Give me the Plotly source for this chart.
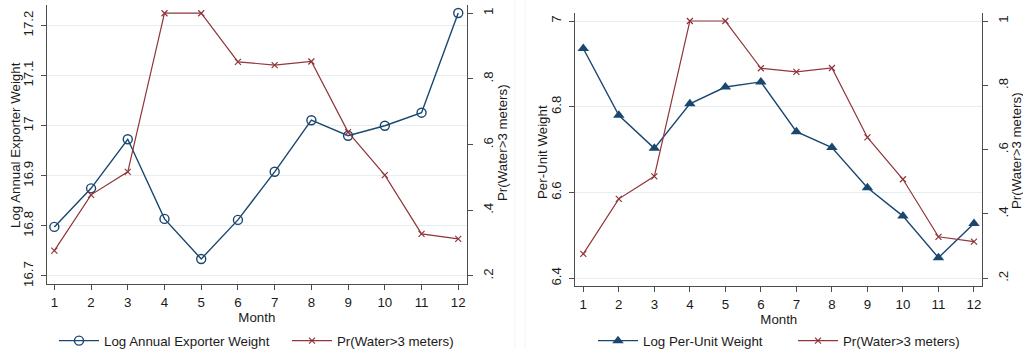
import plotly.graph_objects as go

months = list(range(1, 13))
month_labels = [str(m) for m in months]

log_exporter_weight = [16.798, 16.875, 16.973, 16.814, 16.734, 16.812,
                       16.908, 17.011, 16.980, 17.000, 17.026, 17.225]
pr_water_left = [0.277, 0.447, 0.517, 1.0, 1.0, 0.852,
                 0.842, 0.853, 0.638, 0.507, 0.328, 0.313]

log_per_unit_weight = [6.936, 6.780, 6.703, 6.807, 6.846, 6.858,
                       6.742, 6.705, 6.611, 6.545, 6.448, 6.528]
pr_water_right = [0.276, 0.447, 0.517, 1.0, 1.0, 0.853,
                  0.842, 0.854, 0.638, 0.508, 0.329, 0.314]

left_ticks = [16.7, 16.8, 16.9, 17.0, 17.1, 17.2]
left_ticktext = ["16.7", "16.8", "16.9", "17", "17.1", "17.2"]
right_ticks = [6.4, 6.6, 6.8, 7.0]
right_ticktext = ["6.4", "6.6", "6.8", "7"]
pr_ticks = [0.2, 0.4, 0.6, 0.8, 1.0]
pr_ticktext = [".2", ".4", ".6", ".8", "1"]

BLUE = "#1a476f"
RED = "#90353b"
AXIS = "#4d4d4d"
GRID = "#e6eef0"
FONT = "Liberation Sans, Arial, sans-serif"
FS = 13.3
W, H = 1023, 349

fig = go.Figure()

fig.add_trace(go.Scatter(
    x=months, y=log_exporter_weight, mode="lines+markers",
    name="Log Annual Exporter Weight",
    line=dict(color=BLUE, width=1.4),
    marker=dict(symbol="circle-open", size=9, color=BLUE, line=dict(width=1.4)),
    xaxis="x", yaxis="y", legend="legend"))
fig.add_trace(go.Scatter(
    x=months, y=pr_water_left, mode="lines+markers",
    name="Pr(Water>3 meters)",
    line=dict(color=RED, width=1.2),
    marker=dict(symbol="x-thin", size=6, color=RED, line=dict(width=1.2, color=RED)),
    xaxis="x", yaxis="y2", legend="legend"))

fig.add_trace(go.Scatter(
    x=months, y=log_per_unit_weight, mode="lines+markers",
    name="Log Per-Unit Weight",
    line=dict(color=BLUE, width=1.4),
    marker=dict(symbol="triangle-up", size=10, color=BLUE),
    xaxis="x2", yaxis="y3", legend="legend2"))
fig.add_trace(go.Scatter(
    x=months, y=pr_water_right, mode="lines+markers",
    name="Pr(Water>3 meters)",
    line=dict(color=RED, width=1.2),
    marker=dict(symbol="x-thin", size=6, color=RED, line=dict(width=1.2, color=RED)),
    xaxis="x2", yaxis="y4", legend="legend2"))

tickfont = dict(family=FONT, size=FS, color="#1a1a1a")
titlefont = dict(family=FONT, size=FS, color="#1a1a1a")

def xaxis(domain, rng, anchor):
    return dict(domain=domain, range=rng, anchor=anchor, automargin=False,
                tickvals=months, ticktext=month_labels,
                showline=True, linecolor=AXIS, linewidth=1,
                ticks="outside", ticklen=5, tickcolor=AXIS,
                ticklabelstandoff=1,
                showgrid=False, zeroline=False,
                tickfont=tickfont,
                title=dict(text="Month", font=titlefont, standoff=3))

def yaxis_left(domain, rng, anchor, tv, tt):
    return dict(domain=domain, range=rng, anchor=anchor, automargin=False,
                tickvals=tv, ticktext=tt, tickangle=-90,
                showline=True, linecolor=AXIS, linewidth=1,
                ticks="outside", ticklen=5, tickcolor=AXIS,
                ticklabelstandoff=3,
                showgrid=True, gridcolor=GRID, gridwidth=1, zeroline=False,
                tickfont=tickfont)

def yaxis_right(domain, rng, anchor, overlay):
    return dict(domain=domain, range=rng, anchor=anchor, overlaying=overlay,
                automargin=False,
                side="right", tickvals=pr_ticks, ticktext=pr_ticktext, tickangle=-90,
                showline=True, linecolor=AXIS, linewidth=1,
                ticks="outside", ticklen=5, tickcolor=AXIS,
                ticklabelstandoff=4,
                showgrid=False, zeroline=False,
                tickfont=tickfont)

legend_common = dict(orientation="h", yanchor="middle", y=8 / H,
                     xanchor="left",
                     font=dict(family=FONT, size=FS, color="#1a1a1a"),
                     bgcolor="rgba(0,0,0,0)", entrywidthmode="pixels",
                     tracegroupgap=0, itemwidth=40)

def ytitle(text, x, y):
    return dict(text=text, xref="paper", yref="paper", x=x / W, y=1 - y / H,
                xanchor="center", yanchor="middle", textangle=-90, showarrow=False,
                font=titlefont)

fig.update_layout(
    width=W, height=H,
    margin=dict(l=0, r=0, t=0, b=0, autoexpand=False),
    paper_bgcolor="white", plot_bgcolor="white",
    font=dict(family=FONT, size=FS, color="#1a1a1a"),
    xaxis=xaxis([47 / W, 466.7 / W], [0.8, 12.23], "y"),
    yaxis=yaxis_left([65 / H, 344 / H], [16.684, 17.241], "x",
                     left_ticks, left_ticktext),
    yaxis2=yaxis_right([65 / H, 344 / H], [0.1756, 1.025], "x", "y"),
    xaxis2=xaxis([575.3 / W, 982.3 / W], [0.775, 12.234], "y3"),
    yaxis3=yaxis_left([63 / H, 335.7 / H], [6.382, 7.018], "x2",
                      right_ticks, right_ticktext),
    yaxis4=yaxis_right([63 / H, 335.7 / H], [0.176, 1.024], "x2", "y3"),
    legend=dict(legend_common, x=54 / W, entrywidth=178),
    legend2=dict(legend_common, x=593 / W, entrywidth=145),
    showlegend=True,
    annotations=[
        ytitle("Log Annual Exporter Weight", 15, 145),
        ytitle("Pr(Water>3 meters)", 502, 143),
        ytitle("Per-Unit Weight", 542, 152),
        ytitle("Pr(Water>3 meters)", 1016.5, 150.5),
    ],
    shapes=[
        dict(type="line", xref="paper", yref="paper", x0=515 / W, x1=515 / W, y0=0, y1=1,
             line=dict(color="#f3f3f3", width=1)),
        dict(type="line", xref="paper", yref="paper", x0=525 / W, x1=525 / W, y0=0, y1=1,
             line=dict(color="#f3f3f3", width=1)),
    ],
)

fig.write_html("out.html")
